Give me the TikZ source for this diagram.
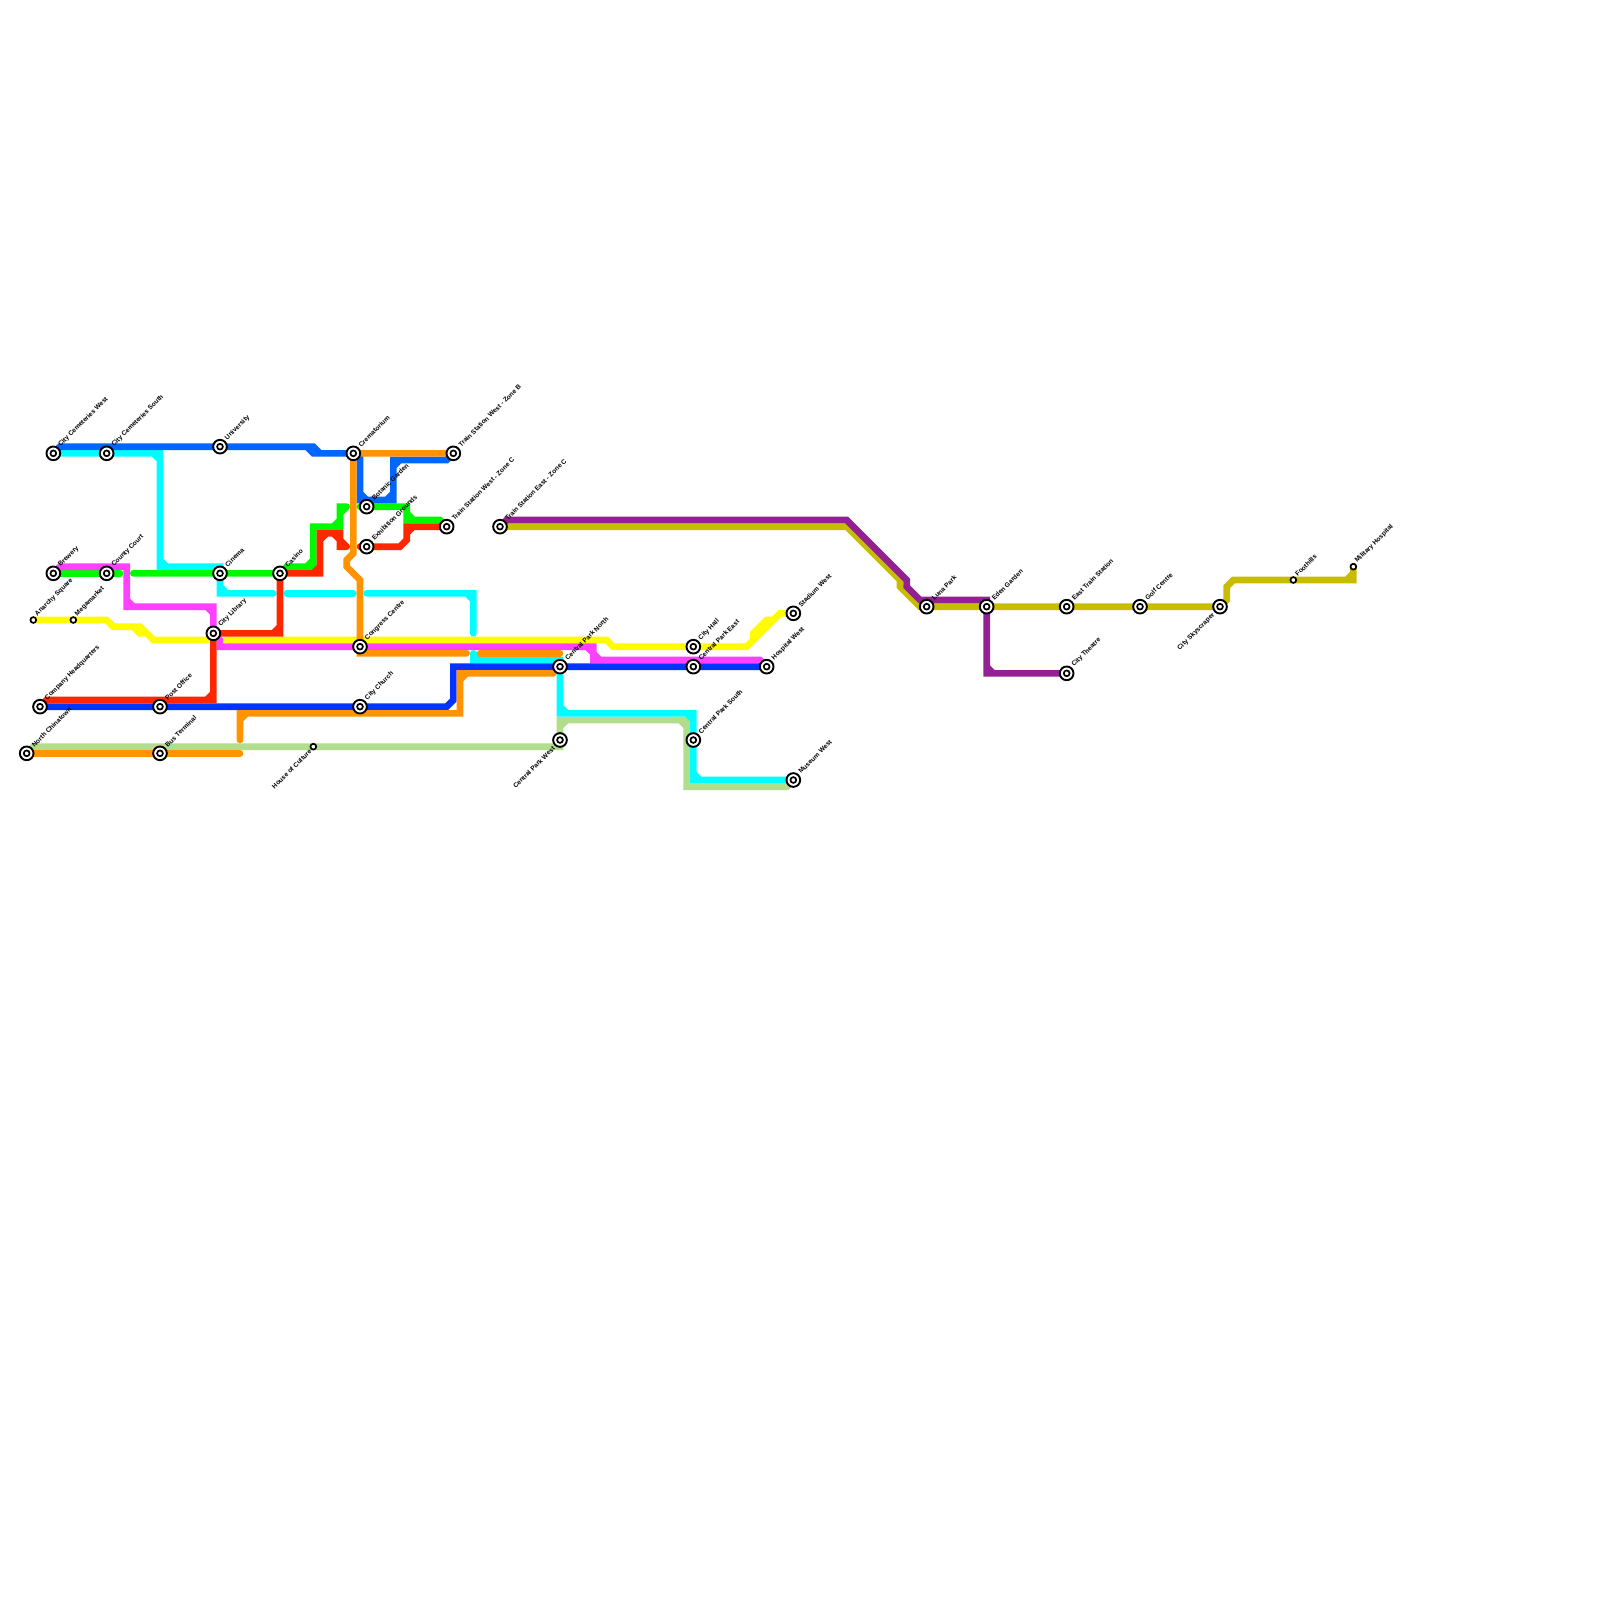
\documentclass[tikz,border=0pt]{standalone}
\usepackage{fontspec}
\setmainfont{Liberation Sans}
\newcommand{\stnup}[3]{\node[lblup] (l#1) at ([shift={(#3)}]#1) {#2};}
\newcommand{\stndn}[3]{\node[lbldn] (l#1) at ([shift={(#3)}]#1) {#2};}
\definecolor{cblue}{HTML}{0066FF}
\definecolor{cdark}{HTML}{0433FF}
\definecolor{ccyan}{HTML}{00FDFF}
\definecolor{cgreen}{HTML}{00F900}
\definecolor{cred}{HTML}{FF2600}
\definecolor{cmag}{HTML}{FF40FF}
\definecolor{cyel}{HTML}{FFFB00}
\definecolor{corg}{HTML}{FF9300}
\definecolor{cpur}{HTML}{942192}
\definecolor{coli}{HTML}{C7BD00}
\definecolor{clgr}{HTML}{B1DD8C}
\tikzset{
  tube/.style={line width=3.3333pt,line cap=round,line join=miter},
  ic/.style={circle,draw=black,fill=white,line width=.95pt,minimum size=6.85pt,inner sep=0pt,
    path picture={\draw[line width=.85pt,black] (path picture bounding box.center) circle (1.45pt);}},
  sm/.style={circle,draw=black,fill=white,line width=.85pt,minimum size=2.9pt,inner sep=0pt},
  lbl/.style={font=\bfseries\fontsize{3.28pt}{3.6pt}\selectfont,text=black,inner sep=0pt,rotate=45},
  lblup/.style={lbl,anchor=west},
  lbldn/.style={lbl,anchor=east},
}
\begin{document}
\begin{tikzpicture}[x=3.33333pt,y=-3.33333pt]
\fill[white] (0,0) rectangle (240,240);
\useasboundingbox (0,0) rectangle (240,240);
% station positions
\coordinate (csw) at (8,68);
\coordinate (css) at (16,68);
\coordinate (uni) at (33,67);
\coordinate (bre) at (8,86);
\coordinate (cou) at (16,86);
\coordinate (cin) at (33,86);
\coordinate (cas) at (42,86);
\coordinate (ana) at (5,93);
\coordinate (meg) at (11,93);
\coordinate (lib) at (32,95);
\coordinate (hq) at (6,106);
\coordinate (pos) at (24,106);
\coordinate (nch) at (4,113);
\coordinate (bus) at (24,113);
\coordinate (hoc) at (47,112);
\coordinate (cre) at (53,68);
\coordinate (bot) at (55,76);
\coordinate (exh) at (55,82);
\coordinate (twb) at (68,68);
\coordinate (twc) at (67,79);
\coordinate (tec) at (75,79);
\coordinate (con) at (54,97);
\coordinate (chu) at (54,106);
\coordinate (cpn) at (84,100);
\coordinate (cpw) at (84,111);
\coordinate (hal) at (104,97);
\coordinate (cpe) at (104,100);
\coordinate (cps) at (104,111);
\coordinate (hos) at (115,100);
\coordinate (sta) at (119,92);
\coordinate (mus) at (119,117);
\coordinate (lun) at (139,91);
\coordinate (ede) at (148,91);
\coordinate (eas) at (160,91);
\coordinate (the) at (160,101);
\coordinate (gol) at (171,91);
\coordinate (sky) at (183,91);
\coordinate (foo) at (194,87);
\coordinate (mil) at (203,85);
% lines
\draw[tube,coli] (tec) -- (127,79) -- (135,87) -- (135,88) -- (138,91) -- (lun) -- (ede) -- (eas) -- (gol) -- (sky) -- (184,90) -- (184,88) -- (185,87) -- (foo) -- (203,87) -- (mil) (202,87) -- (203,86);
\draw[tube,cpur] (tec) -- (76,78) -- (127,78) -- (136,87) -- (136,88) -- (138,90) -- (148,90) -- (ede) -- (148,101) -- (the) (148,100) -- (149,101);
\draw[tube,clgr] (nch) -- (5,112) -- (hoc) -- (84,112) -- (cpw) -- (84,108) -- (103,108) -- (103,118) -- (118,118) -- (mus) (84,109) -- (85,108) (102,108) -- (103,109);
\draw[tube,cyel] (ana) -- (meg) -- (16,93) -- (17,94) -- (21,94) -- (23,96) -- (31,96) (20,94) -- (21,95) -- (22,95);
\draw[tube,cyel] (34,96) -- (91,96) -- (92,97) -- (hal) -- (112,97) -- (117,92) -- (sta) (113,96) -- (113,95) -- (115,93) -- (116,93);
\draw[tube,ccyan] (csw) -- (css) -- (24,68) -- (24,85) -- (33,85) -- (cin) -- (33,89) -- (41,89) (23,68) -- (24,69) (24,84) -- (25,85) (33,88) -- (34,89);
\draw[tube,ccyan] (43,89) -- (53,89);
\draw[tube,ccyan] (55,89) -- (71,89) -- (71,95) (70,89) -- (71,90);
\draw[tube,ccyan] (71,98) -- (71,99) -- (84,99) -- (cpn) -- (84,107) -- (104,107) -- (cps) -- (104,117) -- (mus) (71,98) -- (72,99) (84,106) -- (85,107) (103,107) -- (104,108) (104,116) -- (105,117);
\draw[tube,cgreen] (bre) -- (cou) -- (18,86);
\draw[tube,cgreen] (20,86) -- (cin) -- (cas) -- (43,85) -- (47,85) -- (47,79) -- (51,79) -- (51,76) -- (52,76) (51,77) -- (52,76) (46,85) -- (47,84) (50,79) -- (51,78);
\draw[tube,cgreen] (54,76) -- (bot) -- (61,76) -- (61,78) -- (66,78) -- (twc) (61,77) -- (62,78);
\draw[tube,cmag] (bre) -- (9,85) -- (19,85) -- (19,91) -- (32,91) -- (lib) -- (33,96) -- (33,97) -- (con) -- (88,97) -- (89,97) -- (89,99) -- (114,99) -- (hos) (19,90) -- (20,91) (31,91) -- (32,92) (88,97) -- (89,98) (89,98) -- (90,99);
\draw[tube,cdark] (hq) -- (pos) -- (chu) -- (67,106) -- (68,105) -- (68,100) -- (cpn) -- (cpe) -- (hos);
\draw[tube,cblue] (csw) -- (9,67) -- (uni) -- (47,67) -- (48,68) -- (cre) -- (54,68) -- (54,75) -- (59,75) -- (59,69) -- (67,69) -- (twb) (46,67) -- (47,68) -- (48,68) (54,74) -- (55,75) (58,75) -- (59,74) (59,70) -- (60,69);
\draw[tube,cred] (hq) -- (7,105) -- (32,105) -- (lib) -- (42,95) -- (cas) -- (48,86) -- (48,80) -- (51,80) -- (51,82) -- (52,82) (31,105) -- (32,104) (41,95) -- (42,94) (47,86) -- (48,85) (48,81) -- (49,80) (50,80) -- (51,81) (51,81) -- (52,82);
\draw[tube,cred] (54,82) -- (exh) -- (60,82) -- (61,81) -- (61,79) -- (twc) (61,80) -- (62,79);
\draw[tube,corg] (nch) -- (bus) -- (36,113);
\draw[tube,corg] (36,111) -- (36,107) -- (69,107) -- (69,101) -- (83,101) (36,108) -- (37,107) (69,102) -- (70,101);
\draw[tube,corg] (cre) -- (twb) (cre) -- (53,83) -- (52,84) -- (52,85) -- (54,87) -- (con) -- (54,98) -- (70,98) (54,97) -- (55,98);
\draw[tube,corg] (72,98) -- (84,98);
% stations
\foreach \s in {csw,css,uni,bre,cou,cin,cas,lib,hq,pos,nch,bus,cre,bot,exh,twb,twc,tec,con,chu,cpn,cpw,hal,cpe,cps,hos,sta,mus,lun,ede,eas,the,gol,sky}{\node[ic] (n\s) at (\s) {};}
\foreach \s in {ana,meg,hoc,foo,mil}{\node[sm] (n\s) at (\s) {};}
% labels
\stnup{csw}{City Cemeteries West}{.9,-1.1}
\stnup{css}{City Cemeteries South}{.9,-1.1}
\stnup{uni}{University}{.9,-1.1}
\stnup{bre}{Brewery}{.9,-1.1}
\stnup{cou}{County Court}{.9,-1.1}
\stnup{cin}{Cinema}{.9,-1.1}
\stnup{cas}{Casino}{.9,-1.1}
\stnup{ana}{Anarchy Square}{.4,-.7}
\stnup{meg}{Megamarket}{.4,-.7}
\stnup{lib}{City Library}{.9,-1.1}
\stnup{hq}{Company Headquarters}{.9,-1.1}
\stnup{pos}{Post Office}{.9,-1.1}
\stnup{nch}{North Chinatown}{.9,-1.1}
\stnup{bus}{Bus Terminal}{.9,-1.1}
\stndn{hoc}{House of Culture}{-.4,.5}
\stnup{cre}{Crematorium}{.9,-1.1}
\stnup{bot}{Botanic Garden}{.9,-1.1}
\stnup{exh}{Exhibition Grounds}{.9,-1.1}
\stnup{twb}{Train Station West - Zone B}{.9,-1.1}
\stnup{twc}{Train Station West - Zone C}{.9,-1.1}
\stnup{tec}{Train Station East - Zone C}{.9,-1.1}
\stnup{con}{Congress Centre}{.9,-1.1}
\stnup{chu}{City Church}{.9,-1.1}
\stnup{cpn}{Central Park North}{.9,-1.1}
\stndn{cpw}{Central Park West}{-.9,1.1}
\stnup{hal}{City Hall}{.9,-1.1}
\stnup{cpe}{Central Park East}{.9,-1.1}
\stnup{cps}{Central Park South}{.9,-1.1}
\stnup{hos}{Hospital West}{.9,-1.1}
\stnup{sta}{Stadium West}{.9,-1.1}
\stnup{mus}{Museum West}{.9,-1.1}
\stnup{lun}{Luna Park}{.9,-1.1}
\stnup{ede}{Eden Garden}{.9,-1.1}
\stnup{eas}{East Train Station}{.9,-1.1}
\stnup{the}{City Theatre}{.9,-1.1}
\stnup{gol}{Golf Centre}{.9,-1.1}
\stndn{sky}{City Skyscraper}{-.9,1.1}
\stnup{foo}{Foothills}{.4,-.7}
\stnup{mil}{Military Hospital}{.4,-.7}
\end{tikzpicture}
\end{document}
